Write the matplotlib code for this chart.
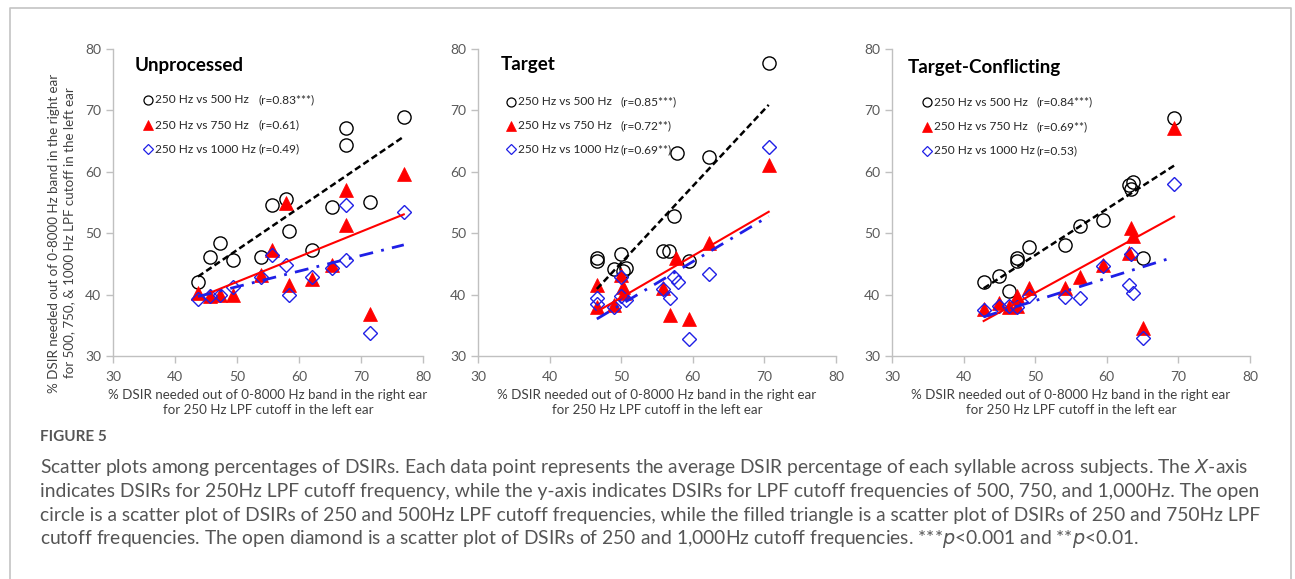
import numpy as np
import matplotlib
matplotlib.use("Agg")
import matplotlib.pyplot as plt
from matplotlib.lines import Line2D

plt.rcParams['font.family'] = ['Lato', 'DejaVu Sans']

paneles = ["Unprocessed", "Target", "Target-Conflicting"]

# panel 1 - Unprocessed
x_u_500 = [43.7, 45.6, 47.2, 49.4, 53.9, 55.7, 57.9, 58.4, 62.1, 65.4, 67.6, 67.6, 71.5, 76.9]
y_u_500 = [42.1, 46.2, 48.4, 45.7, 46.2, 54.6, 55.5, 50.3, 47.2, 54.3, 67.1, 64.3, 55.1, 69.0]
x_u_750 = [43.7, 45.6, 47.2, 49.4, 53.9, 55.7, 57.9, 58.4, 62.1, 65.4, 67.6, 67.6, 71.5, 76.9]
y_u_750 = [40.2, 39.7, 40.0, 40.0, 43.2, 47.3, 55.0, 41.6, 42.5, 44.8, 57.1, 51.4, 36.8, 59.6]
x_u_1000 = [43.7, 45.6, 47.2, 49.4, 53.9, 55.7, 57.9, 58.4, 62.1, 65.4, 67.6, 67.6, 71.5, 76.9]
y_u_1000 = [39.3, 39.7, 40.0, 41.3, 42.9, 46.5, 44.8, 40.0, 42.8, 44.4, 54.6, 45.7, 33.7, 53.4]

# panel 2 - Target
x_t_500 = [46.6, 46.6, 49.0, 50.0, 50.2, 50.7, 55.9, 56.7, 57.4, 57.8, 59.4, 62.2, 70.6]
y_t_500 = [46.0, 45.4, 44.1, 46.6, 43.9, 44.4, 47.1, 47.1, 52.8, 63.0, 45.4, 62.4, 77.8]
x_t_750 = [46.6, 46.6, 49.0, 50.0, 50.3, 50.4, 55.9, 56.8, 57.7, 59.4, 62.2, 70.6]
y_t_750 = [41.6, 38.0, 38.3, 43.2, 41.3, 40.2, 41.0, 36.7, 46.0, 36.1, 48.4, 61.1]
x_t_1000 = [46.6, 46.6, 49.0, 50.0, 50.0, 50.7, 55.9, 56.8, 57.4, 57.9, 62.2, 59.4, 70.6]
y_t_1000 = [39.4, 38.5, 38.0, 42.9, 39.8, 39.2, 40.9, 39.4, 42.8, 42.1, 43.4, 32.8, 64.0]

# panel 3 - Target-Conflicting
x_c_500 = [42.8, 45.0, 46.3, 47.4, 47.5, 49.1, 54.1, 56.2, 59.4, 63.1, 63.4, 63.7, 65.1, 69.4]
y_c_500 = [42.1, 43.1, 40.6, 45.9, 45.5, 47.8, 48.0, 51.2, 52.2, 57.8, 57.2, 58.4, 45.9, 68.8]
x_c_750 = [42.8, 45.0, 46.3, 47.5, 47.5, 49.1, 54.1, 56.2, 59.4, 63.4, 63.7, 63.1, 65.1, 69.4]
y_c_750 = [37.6, 38.6, 37.9, 39.7, 38.2, 41.1, 41.1, 42.9, 44.8, 50.8, 49.6, 46.7, 34.5, 67.1]
x_c_1000 = [42.8, 45.0, 46.3, 47.5, 49.1, 54.1, 56.2, 59.4, 63.1, 63.7, 63.4, 65.1, 69.4]
y_c_1000 = [37.5, 38.2, 38.2, 38.0, 39.7, 39.6, 39.4, 44.7, 41.6, 40.2, 46.6, 33.0, 58.0]

etiquetas = ["250 Hz vs 500 Hz", "250 Hz vs 750 Hz", "250 Hz vs 1000 Hz"]
r_u = ["(r=0.83***)", "(r=0.61)", "(r=0.49)"]
r_t = ["(r=0.85***)", "(r=0.72**)", "(r=0.69**)"]
r_c = ["(r=0.84***)", "(r=0.69**)", "(r=0.53)"]

datos = [
    [(x_u_500, y_u_500), (x_u_750, y_u_750), (x_u_1000, y_u_1000)],
    [(x_t_500, y_t_500), (x_t_750, y_t_750), (x_t_1000, y_t_1000)],
    [(x_c_500, y_c_500), (x_c_750, y_c_750), (x_c_1000, y_c_1000)],
]
valores_r = [r_u, r_t, r_c]

ticks = [30, 40, 50, 60, 70, 80]

fig = plt.figure(figsize=(12.95, 5.79), dpi=100)

# marco alrededor de la figura y el pie
marco = Line2D([9.5/1295, 9.5/1295, 1290.5/1295, 1290.5/1295],
               [0, 1-7.5/579, 1-7.5/579, 0], transform=fig.transFigure,
               color="#c4c4c4", lw=1.2)
fig.add_artist(marco)

izq = [113, 478, 892]
anchos = [310, 358, 358]
pos_titulo = [(0.071, 0.945), (0.063, 0.951), (0.044, 0.941)]
pos_leyenda = [(0.113, 0.135, 0.470, [0.834, 0.752, 0.674]),
               (0.092, 0.112, 0.399, [0.828, 0.750, 0.673]),
               (0.098, 0.117, 0.405, [0.827, 0.746, 0.668])]

estilos = [
    dict(marker="o", mfc="none", mec="black", mew=1.0, ms=9.5),
    dict(marker="^", mfc="red", mec="red", mew=0.5, ms=9.5),
    dict(marker="D", mfc="none", mec="#1f1fe6", mew=1.0, ms=7.5),
]
estilos_ley = [
    dict(marker="o", mfc="none", mec="black", mew=0.9, ms=6.5),
    dict(marker="^", mfc="red", mec="red", mew=0.5, ms=7),
    dict(marker="D", mfc="none", mec="#1f1fe6", mew=0.9, ms=5),
]
lineas = [
    dict(color="black", lw=1.8, dashes=(2.6, 1.4)),
    dict(color="red", lw=1.5, linestyle="-"),
    dict(color="#1f1fe6", lw=2.0, dashes=(5, 3, 1, 3)),
]

for i in range(3):
    ax = fig.add_axes([izq[i]/1295, 1-356/579, anchos[i]/1295, 307/579])
    ax.set_xlim(30, 80)
    ax.set_ylim(30, 80)
    ax.set_xticks(ticks)
    ax.set_yticks(ticks)
    for s in ["top", "right"]:
        ax.spines[s].set_visible(False)
    for s in ["left", "bottom"]:
        ax.spines[s].set_color("#c0c0c0")
        ax.spines[s].set_linewidth(1.0)
    ax.tick_params(colors="#c0c0c0", labelcolor="#595959", labelsize=10,
                   length=5, width=1.0)
    ax.tick_params(axis="x", pad=6)

    for j in range(3):
        xs, ys = datos[i][j]
        ax.plot(xs, ys, linestyle="none", **estilos[j], zorder=3)
    for j in range(3):
        xs, ys = datos[i][j]
        m, b = np.polyfit(xs, ys, 1)
        xl = np.array([min(xs), max(xs)])
        ax.plot(xl, m*xl + b, zorder=4, **lineas[j])

    tx, ty = pos_titulo[i]
    ax.text(tx, ty, paneles[i], transform=ax.transAxes, fontsize=13.5,
            fontweight="bold", va="center", ha="left", color="black")

    mx, lx, rx, filas = pos_leyenda[i]
    for j in range(3):
        ax.plot([mx], [filas[j]], transform=ax.transAxes, linestyle="none",
                clip_on=False, **estilos_ley[j])
        ax.text(lx, filas[j], etiquetas[j], transform=ax.transAxes,
                fontsize=8.6, va="center", ha="left", color="#262626")
        ax.text(rx, filas[j], valores_r[i][j], transform=ax.transAxes,
                fontsize=8.6, va="center", ha="left", color="#262626")

    cx = (izq[i] + anchos[i]/2) / 1295
    fig.text(cx, 1-402.5/579,
             "% DSIR needed out of 0-8000 Hz band in the right ear\nfor 250 Hz LPF cutoff in the left ear",
             ha="center", va="center", fontsize=9.6, color="#404040",
             linespacing=1.3)

fig.text(62/1295, 1-233/579,
         "% DSIR needed out of 0-8000 Hz band in the right ear\nfor 500, 750, & 1000 Hz LPF cutoff in the left ear",
         ha="center", va="center", rotation=90, fontsize=9.6, color="#404040",
         linespacing=1.3)

fig.text(40/1295, 1-437/579, "FIGURE 5", fontsize=11, fontweight="bold",
         color="#555555", va="center", ha="left")

leyenda = [
    "Scatter plots among percentages of DSIRs. Each data point represents the average DSIR percentage of each syllable across subjects. The $\\it{X}$-axis",
    "indicates DSIRs for 250Hz LPF cutoff frequency, while the y-axis indicates DSIRs for LPF cutoff frequencies of 500, 750, and 1,000Hz. The open",
    "circle is a scatter plot of DSIRs of 250 and 500Hz LPF cutoff frequencies, while the filled triangle is a scatter plot of DSIRs of 250 and 750Hz LPF",
    "cutoff frequencies. The open diamond is a scatter plot of DSIRs of 250 and 1,000Hz cutoff frequencies. ***$\\it{p}$<0.001 and **$\\it{p}$<0.01.",
]
for k, linea in enumerate(leyenda):
    fig.text(40/1295, 1-(467 + 24*k)/579, linea, fontsize=13.9, color="#555555",
             va="center", ha="left")

plt.savefig("out.png", dpi=100)
